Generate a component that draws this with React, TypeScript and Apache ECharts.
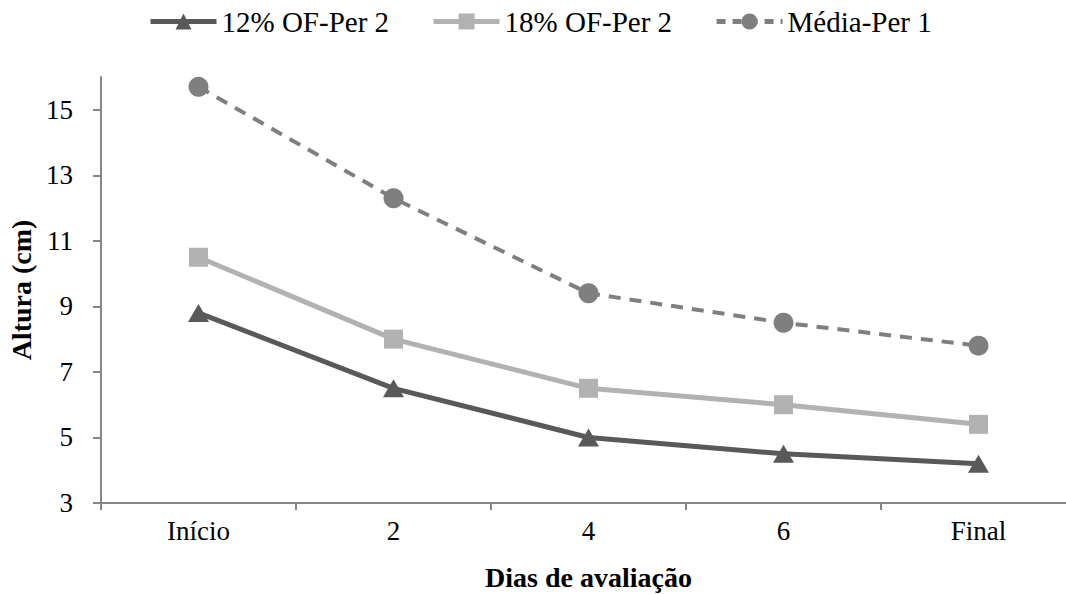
import React, { useEffect, useRef } from "react";
import * as echarts from "echarts";

const categories = ["Início", "2", "4", "6", "Final"];
const serie12 = [8.8, 6.5, 5.0, 4.5, 4.2];
const serie18 = [10.5, 8.0, 6.5, 6.0, 5.4];
const mediaPer1 = [15.7, 12.3, 9.4, 8.5, 7.8];
const yTicks = [3, 5, 7, 9, 11, 13, 15];

const FONT = "Liberation Serif";

export default function App() {
  const ref = useRef<HTMLDivElement>(null);

  useEffect(() => {
    if (!ref.current) return;
    const chart = echarts.init(ref.current, undefined, { renderer: "svg" });
    const axisGray = "#868686";
    chart.setOption({
      animation: false,
      backgroundColor: "#ffffff",
      textStyle: { fontFamily: FONT },
      legend: {
        top: 2,
        left: 143,
        itemWidth: 66,
        itemHeight: 20,
        itemGap: 42,
        textStyle: { fontFamily: FONT, fontSize: 29, color: "#000" },
        data: [
          { name: "12% OF-Per 2", lineStyle: { width: 5 } },
          { name: "18% OF-Per 2", lineStyle: { width: 5 } },
          { name: "Média-Per 1", lineStyle: { width: 5, type: [9, 7] } },
        ],
      },
      grid: {
        left: 101,
        right: -10,
        top: 77,
        bottom: 91,
        containLabel: false,
        outerBoundsMode: "none",
      },
      xAxis: {
        type: "category",
        data: categories,
        boundaryGap: true,
        name: "Dias de avaliação",
        nameLocation: "middle",
        nameGap: 60,
        nameTextStyle: { fontFamily: FONT, fontSize: 28, fontWeight: "bold", color: "#000" },
        axisLine: { lineStyle: { color: axisGray, width: 2 } },
        axisTick: { show: true, alignWithLabel: false, length: 7, lineStyle: { color: axisGray, width: 2 } },
        axisLabel: { fontFamily: FONT, fontSize: 27, color: "#000", margin: 14 },
        splitLine: { show: false },
      },
      yAxis: {
        type: "value",
        min: 3,
        max: 16,
        name: "Altura (cm)",
        nameLocation: "middle",
        nameGap: 65,
        nameRotate: 90,
        nameTextStyle: { fontFamily: FONT, fontSize: 28, fontWeight: "bold", color: "#000" },
        axisLine: { show: true, lineStyle: { color: axisGray, width: 2 } },
        axisTick: { show: true, length: 8, customValues: yTicks, lineStyle: { color: axisGray, width: 2 } },
        axisLabel: { fontFamily: FONT, fontSize: 27, color: "#000", margin: 28, customValues: yTicks },
        splitLine: { show: false },
      },
      series: [
        {
          name: "12% OF-Per 2",
          type: "line",
          data: serie12,
          symbol: "triangle",
          symbolSize: [21, 18],
          lineStyle: { color: "#595959", width: 5 },
          itemStyle: { color: "#595959" },
        },
        {
          name: "18% OF-Per 2",
          type: "line",
          data: serie18,
          symbol: "rect",
          symbolSize: 19,
          lineStyle: { color: "#b2b2b2", width: 5 },
          itemStyle: { color: "#b2b2b2" },
        },
        {
          name: "Média-Per 1",
          type: "line",
          data: mediaPer1,
          symbol: "circle",
          symbolSize: 20,
          lineStyle: { color: "#7f7f7f", width: 4, type: [12, 9] },
          itemStyle: { color: "#7f7f7f" },
        },
      ],
    });
    return () => chart.dispose();
  }, []);

  return (
    <div
      ref={ref}
      style={{ position: "absolute", left: 0, top: 0, width: 1066, height: 594 }}
    />
  );
}
